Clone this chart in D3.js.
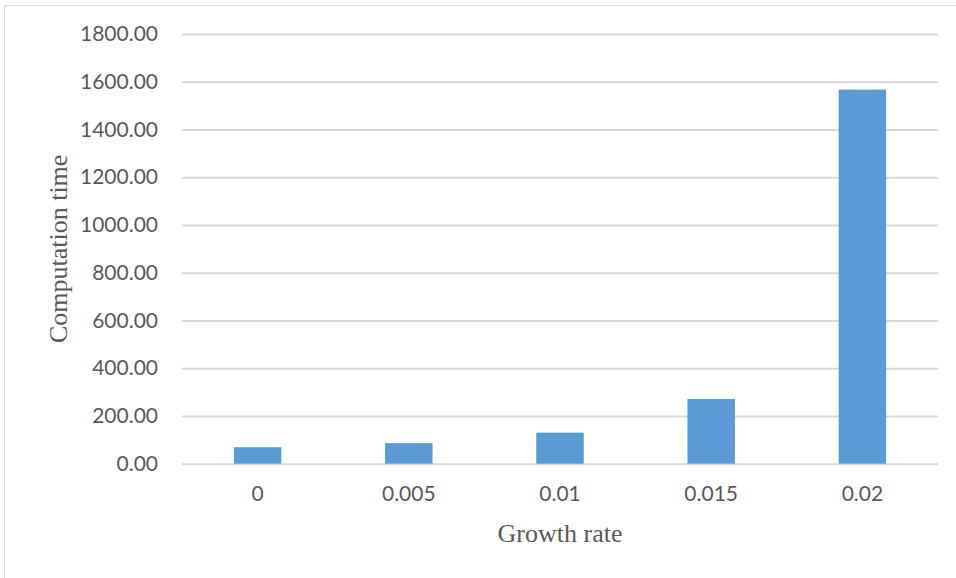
<!DOCTYPE html>
<html>
<head>
<meta charset="utf-8">
<script src="https://cdn.jsdelivr.net/npm/d3@7"></script>
<style>
  html, body { margin: 0; padding: 0; background: #fff; }
  svg { display: block; }
</style>
</head>
<body>
<svg id="chart" width="956" height="578"></svg>
<script>
// Computation time for each growth rate
const growthRates = ["0", "0.005", "0.01", "0.015", "0.02"];
const computationTimes = [69, 86, 130, 271, 1567];
const yTickValues = [0, 200, 400, 600, 800, 1000, 1200, 1400, 1600, 1800];

const svg = d3.select("#chart");
const W = 956, H = 578;
const plot = { left: 182, right: 938, top: 34, bottom: 463.7 };

const textColor = "#595959";
const gridColor = "#D9D9D9";
const barColor = "#5B9BD5";

// Chart area frame (top and left edges)
svg.append("line").attr("x1", 4.5).attr("x2", W).attr("y1", 5.5).attr("y2", 5.5)
  .attr("stroke", gridColor).attr("stroke-width", 1);
svg.append("line").attr("x1", 4.5).attr("x2", 4.5).attr("y1", 5.5).attr("y2", H)
  .attr("stroke", gridColor).attr("stroke-width", 1);

const x = d3.scaleBand()
  .domain(growthRates)
  .range([plot.left, plot.right])
  .paddingInner(0.686)
  .paddingOuter(0.343);

const y = d3.scaleLinear()
  .domain([0, 1800])
  .range([plot.bottom, plot.top]);

// Horizontal gridlines with value labels
const yAxis = d3.axisLeft(y)
  .tickValues(yTickValues)
  .tickFormat(d3.format(".2f"))
  .tickSize(-(plot.right - plot.left))
  .tickPadding(24);

const gy = svg.append("g")
  .attr("transform", `translate(${plot.left},0)`)
  .call(yAxis);
gy.select(".domain").remove();
gy.selectAll(".tick line").attr("stroke", gridColor).attr("stroke-width", 2);
gy.selectAll(".tick text")
  .attr("fill", textColor)
  .style("font-family", "Lato, 'Open Sans', sans-serif")
  .style("font-size", "21px");

// Bars
svg.append("g").selectAll("rect")
  .data(growthRates.map((g, i) => ({ g, v: computationTimes[i] })))
  .join("rect")
  .attr("x", d => x(d.g))
  .attr("y", d => y(d.v))
  .attr("width", x.bandwidth())
  .attr("height", d => y(0) - y(d.v))
  .attr("fill", barColor);

// Category axis labels
const xAxis = d3.axisBottom(x).tickSize(0).tickPadding(22);
const gx = svg.append("g")
  .attr("transform", `translate(0,${plot.bottom})`)
  .call(xAxis);
gx.select(".domain").remove();
gx.selectAll(".tick text")
  .attr("fill", textColor)
  .style("font-family", "Lato, 'Open Sans', sans-serif")
  .style("font-size", "21px");

// Axis titles
svg.append("text")
  .attr("x", (plot.left + plot.right) / 2)
  .attr("y", 542)
  .attr("text-anchor", "middle")
  .attr("fill", textColor)
  .style("font-family", "'Liberation Serif', 'Times New Roman', serif")
  .style("font-size", "26px")
  .text("Growth rate");

svg.append("text")
  .attr("transform", `translate(67,${(plot.top + plot.bottom) / 2}) rotate(-90)`)
  .attr("text-anchor", "middle")
  .attr("fill", textColor)
  .style("font-family", "'Liberation Serif', 'Times New Roman', serif")
  .style("font-size", "26px")
  .text("Computation time");
</script>
</body>
</html>
